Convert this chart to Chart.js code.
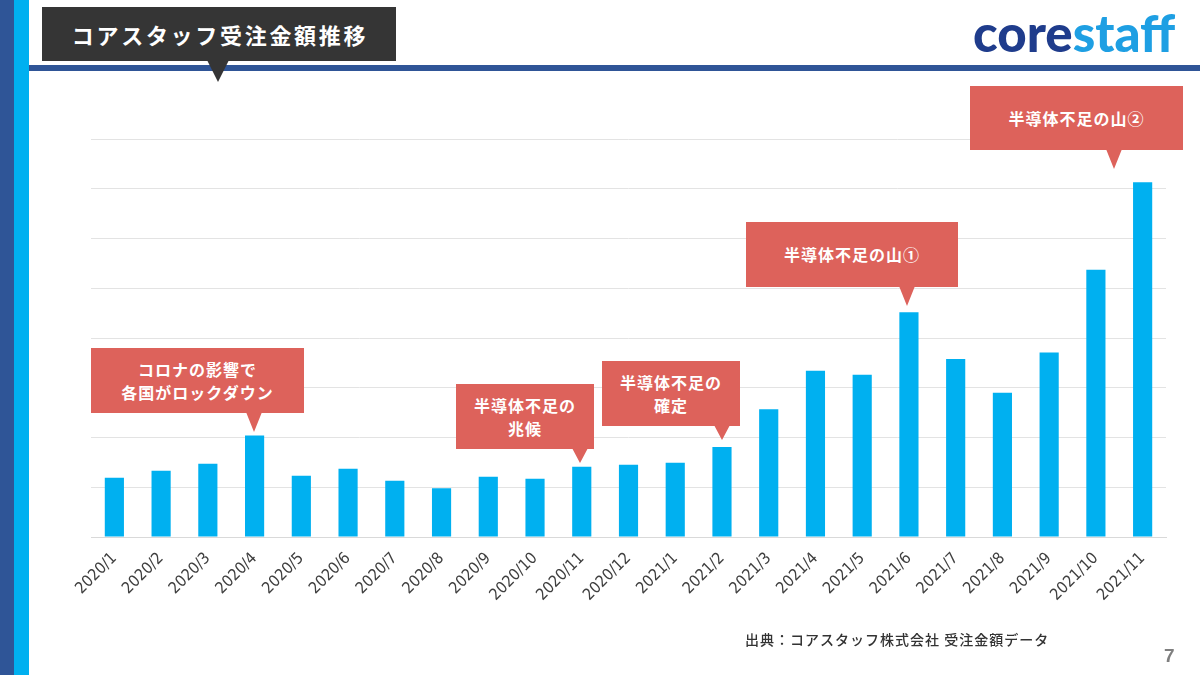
<!DOCTYPE html>
<html lang="ja">
<head>
<meta charset="utf-8">
<script src="https://cdn.jsdelivr.net/npm/chart.js@4.4.1/dist/chart.umd.min.js"></script>
<style>
  html, body { margin: 0; padding: 0; background: #fff; }
  #page { position: relative; width: 1200px; height: 675px; overflow: hidden; background: #fff;
          font-family: "Noto Sans CJK JP", "Noto Sans", sans-serif; }
  #chartWrap { position: absolute; left: 0; top: 0; width: 1200px; height: 675px; }
  .stripe1 { position: absolute; left: 0; top: 0; width: 14px; height: 675px; background: #2F5597; }
  .stripe2 { position: absolute; left: 14px; top: 0; width: 15px; height: 675px; background: #00B0F0; }
  .hline { position: absolute; left: 29px; top: 65px; width: 1171px; height: 6px; background: #2F5597; }
  .titleBox { position: absolute; left: 42px; top: 7px; width: 354px; height: 54px; background: #353535;
              color: #fff; font-weight: 700; font-size: 22px; letter-spacing: 2.7px;
              display: flex; align-items: center; justify-content: center; padding-left: 2px; box-sizing: border-box; }
  .titleTri { position: absolute; left: 207px; top: 60px; width: 0; height: 0;
              border-left: 11px solid transparent; border-right: 11px solid transparent; border-top: 22px solid #353535; }
  .logo { position: absolute; left: 973px; top: 7px; font-family: "Lato", "Open Sans", sans-serif; font-weight: 900;
          font-size: 51px; letter-spacing: 0px; line-height: 1; }
  .logo .c1 { color: #1F3C8C; }
  .logo .c2 { color: #1E9FE3; }
  .note { position: absolute; background: #DD625B; color: #fff; font-weight: 700; font-size: 16px;
          letter-spacing: 1px; line-height: 23px; text-align: center;
          display: flex; align-items: center; justify-content: center; }
  .tri { position: absolute; width: 0; height: 0; border-left: 8px solid transparent; border-right: 8px solid transparent;
         border-top: 20px solid #DD625B; }
  .source { position: absolute; left: 745px; top: 629px; font-size: 14px; color: #333; font-weight: 500; letter-spacing: 1px; }
  .pnum { position: absolute; left: 1164px; top: 645px; font-family: "Liberation Sans", Arial, sans-serif; font-size: 19px; color: #7f7f7f; font-weight: 700; }
</style>
</head>
<body>
<div id="page">
  <div id="chartWrap"><canvas id="c" width="1200" height="675"></canvas></div>
  <div class="stripe1"></div>
  <div class="stripe2"></div>
  <div class="hline"></div>
  <div class="titleBox">コアスタッフ受注金額推移</div>
  <div class="titleTri"></div>
  <div class="logo"><span class="c1">core</span><span class="c2">staff</span></div>

  <div class="note" style="left:91px;top:348px;width:213px;height:65px;">コロナの影響で<br>各国がロックダウン</div>
  <div class="tri" style="left:246px;top:412px;"></div>

  <div class="note" style="left:456px;top:384px;width:138px;height:65px;">半導体不足の<br>兆候</div>
  <div class="tri" style="left:572px;top:448px;border-top-width:15px;"></div>

  <div class="note" style="left:602px;top:361px;width:138px;height:65px;">半導体不足の<br>確定</div>
  <div class="tri" style="left:714px;top:425px;border-top-width:15px;"></div>

  <div class="note" style="left:746px;top:222px;width:212px;height:65px;">半導体不足の山①</div>
  <div class="tri" style="left:899px;top:286px;"></div>

  <div class="note" style="left:970px;top:86px;width:213px;height:64px;">半導体不足の山②</div>
  <div class="tri" style="left:1106px;top:149px;"></div>

  <div class="source">出典：コアスタッフ株式会社 受注金額データ</div>
  <div class="pnum">7</div>
</div>
<script>
const categories = ["2020/1","2020/2","2020/3","2020/4","2020/5","2020/6","2020/7","2020/8","2020/9","2020/10","2020/11","2020/12",
                    "2021/1","2021/2","2021/3","2021/4","2021/5","2021/6","2021/7","2021/8","2021/9","2021/10","2021/11"];
const orderValues = [1.19, 1.33, 1.47, 2.04, 1.23, 1.37, 1.13, 0.98, 1.21, 1.17, 1.41, 1.45,
                     1.49, 1.81, 2.57, 3.34, 3.26, 4.52, 3.58, 2.90, 3.71, 5.37, 7.13];
const yMin = 0;
const yMax = 8;
const yStep = 1;

new Chart(document.getElementById('c'), {
  type: 'bar',
  data: {
    labels: categories,
    datasets: [{
      label: '受注金額',
      data: orderValues,
      backgroundColor: '#00B0F0',
      borderWidth: 0,
      categoryPercentage: 1.0,
      barPercentage: 0.41
    }]
  },
  options: {
    responsive: false,
    animation: false,
    devicePixelRatio: 1,
    layout: { padding: { left: 91, right: 34, top: 139, bottom: 0 } },
    plugins: { legend: { display: false }, tooltip: { enabled: false } },
    scales: {
      x: {
        grid: { display: false },
        border: { display: true, color: '#D9D9D9', width: 1 },
        ticks: {
          autoSkip: false, maxRotation: 45, minRotation: 45, padding: 4,
          color: '#3F3F3F',
          font: { family: '"Liberation Sans Narrow", "DejaVu Sans Condensed", "Liberation Sans", sans-serif', size: 16 }
        },
        afterFit: s => { s.height = 138; }
      },
      y: {
        min: yMin, max: yMax,
        ticks: { display: false, stepSize: yStep },
        grid: { color: '#E3E3E3', lineWidth: 1, drawTicks: false },
        border: { display: false },
        afterFit: s => { s.width = 0; }
      }
    }
  }
});
</script>
</body>
</html>
